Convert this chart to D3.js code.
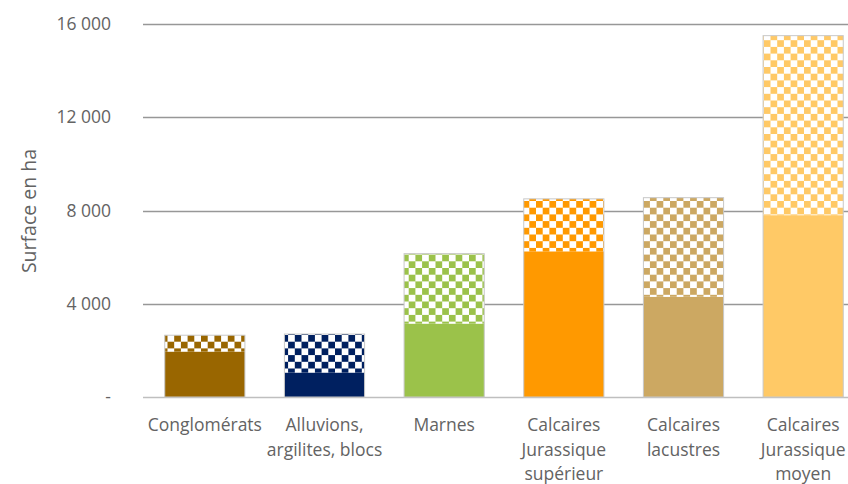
<!DOCTYPE html>
<html>
<head>
<meta charset="utf-8">
<script src="https://cdn.jsdelivr.net/npm/d3@7"></script>
<style>
  body { margin: 0; background: #fff; }
  svg { display: block; }
</style>
</head>
<body>
<div id="graph-holder"></div>
<script>
// categories (x axis), each label split into lines
var categories = [
  "Conglomérats",
  "Alluvions, argilites, blocs",
  "Marnes",
  "Calcaires Jurassique supérieur",
  "Calcaires lacustres",
  "Calcaires Jurassique moyen",
];
var labelLines = [
  ["Conglomérats"],
  ["Alluvions,", "argilites, blocs"],
  ["Marnes"],
  ["Calcaires", "Jurassique", "supérieur"],
  ["Calcaires", "lacustres"],
  ["Calcaires", "Jurassique", "moyen"],
];

// lower (solid) part of each bar, in ha
var solidValues = [1950, 1050, 3150, 6250, 4300, 7800];
// upper (checkered) part of each bar, in ha
var checkValues = [700, 1650, 3000, 2250, 4250, 7700];

// bar colours
var colors = ["#996600", "#002060", "#9BC24A", "#FF9900", "#CCA862", "#FFC966"];

// y ticks
var yTicks = [0, 4000, 8000, 12000, 16000];

var width = 848,
  height = 484;

var svg = d3
  .select("#graph-holder")
  .append("svg")
  .attr("width", width)
  .attr("height", height);

var x = d3.scaleBand().domain(categories).range([145, 863]).paddingInner(0.33).paddingOuter(0.165);
var y = d3.scaleLinear().domain([0, 16000]).range([397, 24]);

// checker patterns, one per colour
var defs = svg.append("defs");
colors.forEach(function (c, i) {
  var p = defs
    .append("pattern")
    .attr("id", "check" + i)
    .attr("patternUnits", "userSpaceOnUse")
    .attr("width", 13.4)
    .attr("height", 13.4);
  p.append("rect").attr("width", 13.4).attr("height", 13.4).attr("fill", "#fff");
  p.append("rect").attr("x", 0).attr("y", 0).attr("width", 6.7).attr("height", 6.7).attr("fill", c);
  p.append("rect").attr("x", 6.7).attr("y", 6.7).attr("width", 6.7).attr("height", 6.7).attr("fill", c);
});

// number format with a space as thousands separator
var fr = d3.formatLocale({ decimal: ",", thousands: " ", grouping: [3], currency: ["", " €"] });
var fmt = fr.format(",.0f");

// gridlines
svg
  .append("g")
  .selectAll("line")
  .data(yTicks)
  .enter()
  .append("line")
  .attr("x1", 143)
  .attr("x2", width)
  .attr("y1", function (d) { return Math.round(y(d)) + 0.5; })
  .attr("y2", function (d) { return Math.round(y(d)) + 0.5; })
  .attr("stroke", function (d) { return d == 0 ? "#bfbfbf" : "#979797"; })
  .attr("stroke-width", 1.4);

// y tick labels
svg
  .append("g")
  .selectAll("text")
  .data(yTicks)
  .enter()
  .append("text")
  .attr("x", 111)
  .attr("y", function (d) { return y(d); })
  .attr("dy", "0.35em")
  .attr("text-anchor", "end")
  .attr("fill", "#636363")
  .style("font-family", "Open Sans")
  .style("font-size", "17.5px")
  .text(function (d) { return d == 0 ? "-" : fmt(d); });

// y axis title
svg
  .append("text")
  .attr("transform", "translate(36,211) rotate(-90)")
  .attr("text-anchor", "middle")
  .attr("fill", "#636363")
  .style("font-family", "Open Sans")
  .style("font-size", "19.5px")
  .text("Surface en ha");

var bars = svg
  .append("g")
  .selectAll("g")
  .data(categories)
  .enter()
  .append("g");

// solid lower part
bars
  .append("rect")
  .attr("x", function (d) { return x(d); })
  .attr("width", x.bandwidth())
  .attr("y", function (d, i) { return y(solidValues[i]); })
  .attr("height", function (d, i) { return y(0) - y(solidValues[i]); })
  .attr("fill", function (d, i) { return colors[i]; });

// checkered upper part
bars
  .append("rect")
  .attr("x", function (d) { return x(d); })
  .attr("width", x.bandwidth())
  .attr("y", function (d, i) { return y(solidValues[i] + checkValues[i]); })
  .attr("height", function (d, i) { return y(solidValues[i]) - y(solidValues[i] + checkValues[i]); })
  .attr("fill", function (d, i) { return "url(#check" + i + ")"; });

// thin gray outline round the whole bar
bars
  .append("rect")
  .attr("x", function (d) { return x(d); })
  .attr("width", x.bandwidth())
  .attr("y", function (d, i) { return y(solidValues[i] + checkValues[i]); })
  .attr("height", function (d, i) { return y(0) - y(solidValues[i] + checkValues[i]); })
  .attr("fill", "none")
  .attr("stroke", "#c8c8c8")
  .attr("stroke-width", 1);

// x labels
var labels = svg
  .append("g")
  .selectAll("text")
  .data(categories)
  .enter()
  .append("text")
  .attr("text-anchor", "middle")
  .attr("fill", "#636363")
  .style("font-family", "Open Sans")
  .style("font-size", "17.5px");

labels
  .selectAll("tspan")
  .data(function (d, i) {
    return labelLines[i].map(function (l) { return { cat: d, line: l }; });
  })
  .enter()
  .append("tspan")
  .attr("x", function (d) { return x(d.cat) + x.bandwidth() / 2; })
  .attr("y", function (d, j) { return 431 + j * 24.5; })
  .text(function (d) { return d.line; });
</script>
</body>
</html>
